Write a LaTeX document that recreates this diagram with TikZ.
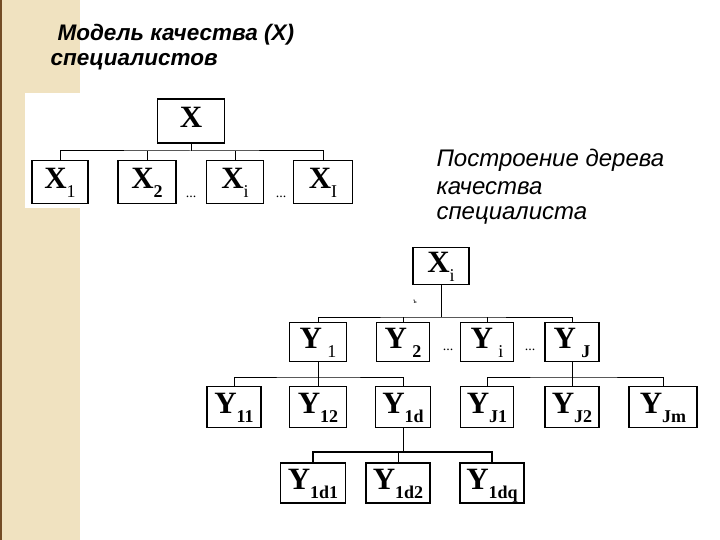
\documentclass[tikz,border=0pt]{standalone}
\usepackage{fontspec}
\setmainfont{Liberation Serif}
\newfontfamily\arialf{Liberation Sans}
\newcommand{\sbx}[1]{\raisebox{-0.28em}{\fontsize{18}{18}\selectfont #1}}
\definecolor{beige}{RGB}{240,226,192}
\begin{document}
\begin{tikzpicture}[x=1pt,y=-1pt,
  bx/.style={draw=black,line width=1.3pt,fill=white,inner sep=0pt,text height=20pt,text depth=7pt,font=\bfseries\fontsize{31}{31}\selectfont},
  ln/.style={line width=1pt},
  dts/.style={font=\fontsize{14}{14}\selectfont},
  ttl/.style={font=\arialf\itshape\fontsize{24}{28}\selectfont,anchor=west}]
\useasboundingbox (0,0) rectangle (720,540);
\fill[white] (0,0) rectangle (720,540);
\fill[beige] (0,0) rectangle (80,540);
\draw[line width=1.5pt,brown!60!black] (1,0) -- (1,540);
\fill[white] (25,93) rectangle (365,208);
% titles
\node[ttl,font=\arialf\bfseries\itshape\fontsize{22.5}{26}\selectfont] (t1) at (54,35) {Модель качества (X)};
\node[ttl,font=\arialf\bfseries\itshape\fontsize{22.5}{26}\selectfont] (t2) at (47,62) {специалистов};
\node[ttl] (t3) at (433,160) {Построение дерева};
\node[ttl] (t4) at (433,188) {качества};
\node[ttl] (t5) at (433,215) {специалиста};
% top tree
\node[bx,minimum width=67pt,minimum height=44pt] (X) at (191,121) {X};
\node[bx,minimum width=56pt,minimum height=43pt] (X1) at (60,182) {X\sbx{\mdseries 1}};
\node[bx,minimum width=58pt,minimum height=43pt] (X2) at (147,182) {X\sbx{2}};
\node[bx,minimum width=57pt,minimum height=43pt] (Xi) at (235,182) {X\sbx{\mdseries i}};
\node[bx,minimum width=59pt,minimum height=43pt] (XI) at (323,182) {X\sbx{\mdseries I}};
\coordinate (b0) at (191,151);
\draw[ln] (X.south) -- (b0);
\draw[ln] (X1.north) |- (b0) -| (XI.north);
\draw[ln] (X2.north) -- (X2.north |- b0);
\draw[ln] (Xi.north) -- (Xi.north |- b0);
\node[dts] (d1) at (191,197) {...};
\node[dts] (d2) at (281,197) {...};
% lower tree
\node[bx,minimum width=56pt,minimum height=37pt] (XXi) at (441,266) {X\sbx{\mdseries i}};
\node[font=\fontsize{7}{7}\selectfont] (mk) at (415,302) {ъ};
\foreach \n/\x/\w/\t in {Y1/318/57/{Y\,\sbx{\mdseries 1}},Y2/403/53/{Y\,\sbx{2}},Yi/487/53/{Y\,\sbx{\mdseries i}},YJ/572/54/{Y\,\sbx{J}}}
  \node[bx,minimum width=\w pt,minimum height=39pt] (\n) at (\x,342) {\t};
\foreach \n/\x/\w/\t in {Y11/234/54/{Y\sbx{11}},Y12/318/57/{Y\sbx{12}},Y1d/403/55/{Y\sbx{1d}},YJ1/487/53/{Y\sbx{J1}},YJ2/572/54/{Y\sbx{J2}},YJm/663/68/{Y\sbx{Jm}}}
  \node[bx,minimum width=\w pt,minimum height=41pt] (\n) at (\x,407) {\t};
\foreach \n/\x/\w/\t in {Y1d1/313/65/{Y\sbx{1d1}},Y1d2/398/64/{Y\sbx{1d2}},Y1dq/492/64/{Y\sbx{1dq}}}
  \node[bx,minimum width=\w pt,minimum height=40pt] (\n) at (\x,483) {\t};
\node[dts] (d3) at (448,350) {...};
\node[dts] (d4) at (530,350) {...};
\coordinate (b1) at (441,317);
\draw[ln] (XXi.south) -- (b1);
\draw[ln] (Y1.north) |- (b1) -| (YJ.north);
\draw[ln] (Y2.north) -- (Y2.north |- b1);
\draw[ln] (Yi.north) -- (Yi.north |- b1);
\coordinate (b2) at (318,377);
\draw[ln] (Y1.south) -- (Y12.north);
\draw[ln] (Y11.north) |- (b2) -| (Y1d.north);
\coordinate (b3) at (572,377);
\draw[ln] (YJ.south) -- (YJ2.north);
\draw[ln] (YJ1.north) |- (b3) -| (YJm.north);
\coordinate (b4) at (403,452);
\draw[ln] (Y1d.south) -- (b4);
\draw[line width=1.6pt] (Y1d1.north) |- (b4) -| (Y1dq.north);
\draw[ln] (Y1d2.north) -- (Y1d2.north |- b4);
\end{tikzpicture}
\end{document}
